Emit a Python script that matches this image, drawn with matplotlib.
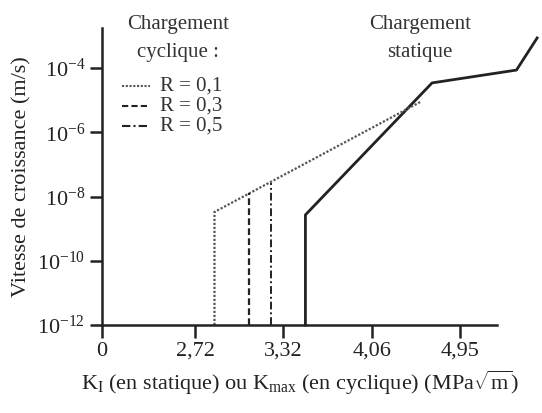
import numpy as np
import matplotlib
matplotlib.use("Agg")
import matplotlib.pyplot as plt

# data (K in MPa.sqrt(m), crack speed in m/s)
k_static = [3.49, 3.49, 4.65, 5.63, 5.90]
v_static = [1e-12, 10**-8.57, 10**-4.46, 10**-4.06, 10**-3.06]

k_r01 = [2.84, 2.84, 4.53]
v_r01 = [1e-12, 10**-8.48, 10**-5.05]
k_r03 = [3.07, 3.07]
v_r03 = [1e-12, 10**-7.89]
k_r05 = [3.23, 3.23]
v_r05 = [1e-12, 10**-7.58]

x_ticks = np.exp([0.789, 1.0, 1.2, 1.4, 1.6])
x_labels = ["0", "2,72", "3,32", "4,06", "4,95"]
y_ticks = [1e-12, 1e-10, 1e-8, 1e-6, 1e-4]
y_labels = [r"$10^{-12}$", r"$10^{-10}$", r"$10^{-8}$", r"$10^{-6}$", r"$10^{-4}$"]
r_labels = ["R = 0,1", "R = 0,3", "R = 0,5"]

plt.rcParams["font.family"] = ["Liberation Serif", "DejaVu Serif"]
plt.rcParams["mathtext.fontset"] = "custom"
plt.rcParams["mathtext.rm"] = "Liberation Serif"
plt.rcParams["mathtext.it"] = "Liberation Serif:italic"

W, H = 542, 413
fig = plt.figure(figsize=(W / 100, H / 100), dpi=100)
ax = fig.add_axes([102 / W, 1 - 325 / H, 395 / W, 297 / H])

ax.set_xscale("log")
ax.set_yscale("log")
ax.set_xlim(x_ticks[0], np.exp(1.684))
ax.set_ylim(1e-12, 10**-2.75)

ax.plot(k_static, v_static, color="#222222", linewidth=2, clip_on=False)
ax.plot(k_r01, v_r01, color="#555555", linewidth=1.6, linestyle=(0, (1, 0.8)))
ax.plot(k_r03, v_r03, color="#222222", linewidth=1.6, linestyle=(0, (3, 1.5)))
ax.plot(k_r05, v_r05, color="#222222", linewidth=1.4, linestyle=(0, (4, 1.5, 1, 1.5)))

for s in ["top", "right"]:
    ax.spines[s].set_visible(False)
for s in ["left", "bottom"]:
    ax.spines[s].set_linewidth(1.8)
    ax.spines[s].set_color("#222222")

ax.set_xticks(x_ticks)
ax.set_xticklabels(x_labels)
ax.xaxis.set_minor_locator(matplotlib.ticker.NullLocator())
ax.set_yticks(y_ticks)
ax.set_yticklabels(y_labels)
ax.yaxis.set_minor_locator(matplotlib.ticker.NullLocator())
ax.tick_params(axis="both", length=9, width=1.8, color="#222222",
               labelsize=16, labelcolor="#222222", pad=3)

ax.set_ylabel("Vitesse de croissance (m/s)", fontsize=16, color="#222222", labelpad=4)
ax.set_xlabel(r"K$_\mathrm{I}$ (en statique) ou K$_\mathrm{max}$ (en cyclique) (MPa$\sqrt{\mathrm{m}}$)",
              fontsize=16, color="#222222", labelpad=6)

# legend drawn by hand, like the original
fig.text(178 / W, 1 - 25 / H, "Chargement", fontsize=15, ha="center", va="center", color="#333333")
fig.text(178 / W, 1 - 53 / H, "cyclique :", fontsize=15, ha="center", va="center", color="#333333")
fig.text(420 / W, 1 - 25 / H, "Chargement", fontsize=15, ha="center", va="center", color="#333333")
fig.text(420 / W, 1 - 53 / H, "statique", fontsize=15, ha="center", va="center", color="#333333")

styles = [((0, (1, 0.8)), "#555555"), ((0, (3, 1.5)), "#222222"), ((0, (4, 1.5, 1, 1.5)), "#222222")]
rows = [86, 106, 126]
for lab, (ls, col), yy in zip(r_labels, styles, rows):
    fig.add_artist(plt.Line2D([122 / W, 150 / W], [1 - yy / H, 1 - yy / H],
                              color=col, linestyle=ls, linewidth=1.5))
    fig.text(160 / W, 1 - yy / H, lab, fontsize=15, ha="left", va="center", color="#333333")

fig.savefig("out.png", dpi=100)
